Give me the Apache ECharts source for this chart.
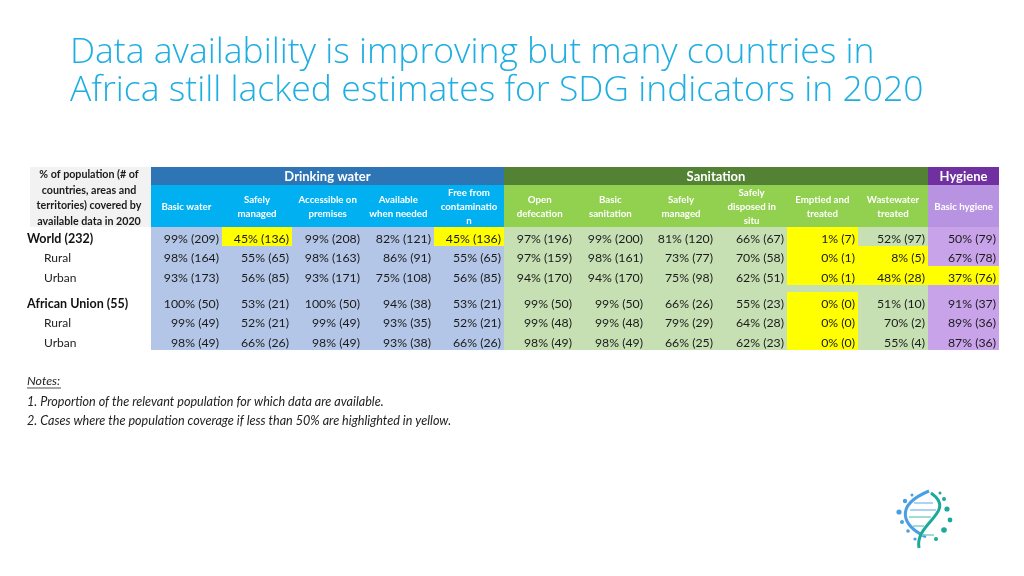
<!DOCTYPE html>
<html>
<head>
<meta charset="utf-8">
<script src="https://cdn.jsdelivr.net/npm/echarts@6/dist/echarts.min.js"></script>
<style>
html,body{margin:0;padding:0;background:#fff;}
#chart{width:1024px;height:576px;}
</style>
</head>
<body>
<div id="chart"></div>
<script>
// ---------- data ----------
const columns = ['Basic water','Safely managed','Accessible on premises','Available when needed','Free from contamination',
  'Open defecation','Basic sanitation','Safely managed','Safely disposed in situ','Emptied and treated','Wastewater treated','Basic hygiene'];
const columnLabels = ['Basic water','Safely\nmanaged','Accessible on\npremises','Available\nwhen needed','Free from\ncontaminatio\nn',
  'Open\ndefecation','Basic\nsanitation','Safely\nmanaged','Safely\ndisposed in\nsitu','Emptied and\ntreated','Wastewater\ntreated','Basic hygiene'];
const groupNames = ['Drinking water','Sanitation','Hygiene'];
const groupFrom = [0,5,11];
const groupTo = [4,10,11];
const rowsWorld = ['World (232)','Rural','Urban'];
const rowsAU = ['African Union (55)','Rural','Urban'];
const worldPct = [
  [99,45,99,82,45,97,99,81,66,1,52,50],
  [98,55,98,86,55,97,98,73,70,0,8,67],
  [93,56,93,75,56,94,94,75,62,0,48,37]
];
const worldN = [
  [209,136,208,121,136,196,200,120,67,7,97,79],
  [164,65,163,91,65,159,161,77,58,1,5,78],
  [173,85,171,108,85,170,170,98,51,1,28,76]
];
const auPct = [
  [100,53,100,94,53,99,99,66,55,0,51,91],
  [99,52,99,93,52,99,99,79,64,0,70,89],
  [98,66,98,93,66,98,98,66,62,0,55,87]
];
const auN = [
  [50,21,50,38,21,50,50,26,23,0,10,37],
  [49,21,49,35,21,48,48,29,28,0,2,36],
  [49,26,49,38,26,49,49,25,23,0,4,36]
];
const headerNote = '% of population (# of\ncountries, areas and\nterritories) covered by\navailable data in 2020';
const titleText = 'Data availability is improving but many countries in\nAfrica still lacked estimates for SDG indicators in 2020';
const notes = ['Notes:','1. Proportion of the relevant population for which data are available.','2. Cases where the population coverage if less than 50% are highlighted in yellow.'];
const threshold = 50;

// ---------- styles ----------
const darkColors = ['#2e75b6','#548235','#7030a0'];
const subColors = ['#00b0f0','#92d050','#b893e2'];
const cellColors = ['#b4c6e7','#c6e0b4','#c9a3ea'];
const highlight = '#ffff00';
function groupOf(c){ for(let g=0; g<groupFrom.length; g++){ if(c>=groupFrom[g] && c<=groupTo[g]) return g; } return 0; }

const chart = echarts.init(document.getElementById('chart'), null, {renderer:'canvas'});

const gridL = 151, gridR = 25;
const grids = [
  {left:gridL, right:gridR, top:167, height:18},
  {left:gridL, right:gridR, top:185, height:42},
  {left:gridL, right:gridR, top:227, height:123},
  {left:gridL, right:gridR, top:227, height:58},
  {left:gridL, right:gridR, top:292, height:58}
];
const xAxes = grids.map((g,i)=>({type:'category', gridIndex:i, data:columns, show:false}));
const rowLabelAxis = (i, rows) => ({
  type:'category', gridIndex:i, data:rows, inverse:true,
  axisLine:{show:false}, axisTick:{show:false}, splitLine:{show:false},
  axisLabel:{
    align:'left', margin:124,
    formatter:(v, idx)=> idx===0 ? '{main|'+v+'}' : '{sub|'+v+'}',
    rich:{
      main:{fontFamily:'Lato', fontWeight:'bold', fontSize:12.5, color:'#111', padding:[5,0,0,0]},
      sub:{fontFamily:'Lato', fontSize:12, color:'#222', padding:[5,0,0,17]}
    }
  }
});
const yAxes = [
  {type:'category', gridIndex:0, data:['group'], show:false},
  {type:'category', gridIndex:1, data:['sub'], show:false},
  {type:'category', gridIndex:2, data:['all'], show:false},
  rowLabelAxis(3, rowsWorld),
  rowLabelAxis(4, rowsAU)
];

function cellBox(api, c, r){
  const p = api.coord([c, r]);
  const s = api.size([1,1]);
  const x0 = Math.round(p[0]-s[0]/2), x1 = Math.round(p[0]+s[0]/2);
  const y0 = Math.round(p[1]-s[1]/2), y1 = Math.round(p[1]+s[1]/2);
  return {x0,x1,y0,y1,cx:p[0],cy:p[1]};
}

function cellSeries(gi, pct, n){
  const data = [];
  pct.forEach((row,r)=>row.forEach((v,c)=>data.push([c, r, v, n[r][c]])));
  return {
    type:'custom', xAxisIndex:gi, yAxisIndex:gi, data, encode:{x:0,y:1},
    renderItem:(params, api)=>{
      const c = api.value(0), r = api.value(1), v = api.value(2), k = api.value(3);
      const b = cellBox(api, c, r);
      const children = [];
      if (v < threshold) {
        children.push({type:'rect', shape:{x:b.x0, y:b.y0, width:b.x1-b.x0, height:b.y1-b.y0}, style:{fill:highlight}});
      }
      children.push({type:'text', style:{text: v+'% ('+k+')', x:b.x1-3, y:b.cy+2.5, align:'right', verticalAlign:'middle',
        fontFamily:'Lato', fontSize:12.3, fill:'#1a1a1a'}});
      return {type:'group', children};
    }
  };
}

const option = {
  animation:false,
  backgroundColor:'#ffffff',
  title:{
    text:titleText, left:65, top:29,
    textStyle:{fontFamily:'Open Sans', fontWeight:300, fontSize:35.5, lineHeight:38, color:'#1eaee2'}
  },
  grid:grids, xAxis:xAxes, yAxis:yAxes,
  series:[
    // group header row
    {
      type:'custom', xAxisIndex:0, yAxisIndex:0, encode:{x:0,y:1},
      data: groupNames.map((g,i)=>[groupFrom[i], 0, groupTo[i]]),
      renderItem:(params, api)=>{
        const a = cellBox(api, api.value(0), 0), b = cellBox(api, api.value(2), 0);
        const gi = params.dataIndex;
        return {type:'group', children:[
          {type:'rect', shape:{x:a.x0, y:a.y0, width:b.x1-a.x0, height:a.y1-a.y0}, style:{fill:darkColors[gi]}},
          {type:'text', style:{text:groupNames[gi], x:(a.x0+b.x1)/2, y:a.cy+1, align:'center', verticalAlign:'middle',
            fontFamily:'Lato', fontWeight:'bold', fontSize:13, fill:'#ffffff'}}
        ]};
      }
    },
    // sub header row
    {
      type:'custom', xAxisIndex:1, yAxisIndex:1, encode:{x:0,y:1},
      data: columns.map((c,i)=>[i,0]),
      renderItem:(params, api)=>{
        const c = api.value(0);
        const b = cellBox(api, c, 0);
        return {type:'group', children:[
          {type:'rect', shape:{x:b.x0, y:b.y0, width:b.x1-b.x0, height:b.y1-b.y0}, style:{fill:subColors[groupOf(c)]}},
          {type:'text', style:{text:columnLabels[c], x:b.cx, y:b.cy+1, align:'center', verticalAlign:'middle',
            fontFamily:'Lato', fontWeight:'bold', fontSize:9.7, lineHeight:14, fill:'#ffffff'}}
        ]};
      }
    },
    // body background
    {
      type:'custom', xAxisIndex:2, yAxisIndex:2, encode:{x:0,y:1},
      data: columns.map((c,i)=>[i,0]),
      renderItem:(params, api)=>{
        const c = api.value(0);
        const b = cellBox(api, c, 0);
        return {type:'rect', shape:{x:b.x0, y:b.y0, width:b.x1-b.x0, height:b.y1-b.y0}, style:{fill:cellColors[groupOf(c)]}};
      }
    },
    cellSeries(3, worldPct, worldN),
    cellSeries(4, auPct, auN)
  ],
  graphic:[
    {type:'rect', left:30, top:167, shape:{width:121, height:60}, style:{fill:'#f2f2f2'}, z:0},
    {type:'text', x:89, y:198, style:{text:headerNote, align:'center', verticalAlign:'middle', fontFamily:'Lato',
      fontWeight:'bold', fontSize:10.7, lineHeight:15.8, fill:'#1a1a1a'}},
    {type:'text', x:27, y:381, style:{text:notes[0], verticalAlign:'middle', fontFamily:'Lato', fontStyle:'italic', fontSize:12.4, fill:'#222'}},
    {type:'line', shape:{x1:27, y1:388, x2:61, y2:388}, style:{stroke:'#222', lineWidth:0.8}},
    {type:'text', x:27, y:402, style:{text:notes[1], verticalAlign:'middle', fontFamily:'Lato', fontStyle:'italic', fontSize:12.6, fill:'#222'}},
    {type:'text', x:27, y:421, style:{text:notes[2], verticalAlign:'middle', fontFamily:'Lato', fontStyle:'italic', fontSize:12.6, fill:'#222'}},
    // decorative DNA logo
    {type:'group', children:[
      {type:'bezierCurve', shape:{x1:929,y1:491, cpx1:893,cpy1:506, cpx2:903,cpy2:526, x2:926,y2:537}, style:{stroke:'#4a9fe3', lineWidth:3, fill:null}},
      {type:'bezierCurve', shape:{x1:931,y1:493, cpx1:958,cpy1:512, cpx2:914,cpy2:523, x2:919,y2:548}, style:{stroke:'#1aa99a', lineWidth:3, fill:null}},
      {type:'line', shape:{x1:914,y1:503,x2:933,y2:503}, style:{stroke:'#8cc7ee', lineWidth:1.5}},
      {type:'line', shape:{x1:910,y1:510,x2:936,y2:510}, style:{stroke:'#8cc7ee', lineWidth:1.5}},
      {type:'line', shape:{x1:909,y1:517,x2:931,y2:517}, style:{stroke:'#7fd0c6', lineWidth:1.5}},
      {type:'line', shape:{x1:913,y1:526,x2:924,y2:526}, style:{stroke:'#7fd0c6', lineWidth:1.5}},
      {type:'line', shape:{x1:922,y1:535,x2:934,y2:535}, style:{stroke:'#7fd0c6', lineWidth:1.5}},
      {type:'circle', shape:{cx:899,cy:512,r:2.6}, style:{fill:'#4a9fe3'}},
      {type:'circle', shape:{cx:902,cy:522,r:2}, style:{fill:'#4a9fe3'}},
      {type:'circle', shape:{cx:905,cy:501,r:2.2}, style:{fill:'#4a9fe3'}},
      {type:'circle', shape:{cx:908,cy:531,r:1.8}, style:{fill:'#4a9fe3'}},
      {type:'circle', shape:{cx:915,cy:539,r:1.6}, style:{fill:'#4a9fe3'}},
      {type:'circle', shape:{cx:912,cy:495,r:1.5}, style:{fill:'#4a9fe3'}},
      {type:'circle', shape:{cx:944,cy:499,r:2}, style:{fill:'#1aa99a'}},
      {type:'circle', shape:{cx:947,cy:509,r:2.6}, style:{fill:'#1aa99a'}},
      {type:'circle', shape:{cx:950,cy:520,r:2.4}, style:{fill:'#1aa99a'}},
      {type:'circle', shape:{cx:944,cy:530,r:2.8}, style:{fill:'#1aa99a'}},
      {type:'circle', shape:{cx:936,cy:539,r:2}, style:{fill:'#1aa99a'}},
      {type:'circle', shape:{cx:940,cy:493,r:1.5}, style:{fill:'#1aa99a'}}
    ]}
  ]
};
chart.setOption(option);
</script>
</body>
</html>
